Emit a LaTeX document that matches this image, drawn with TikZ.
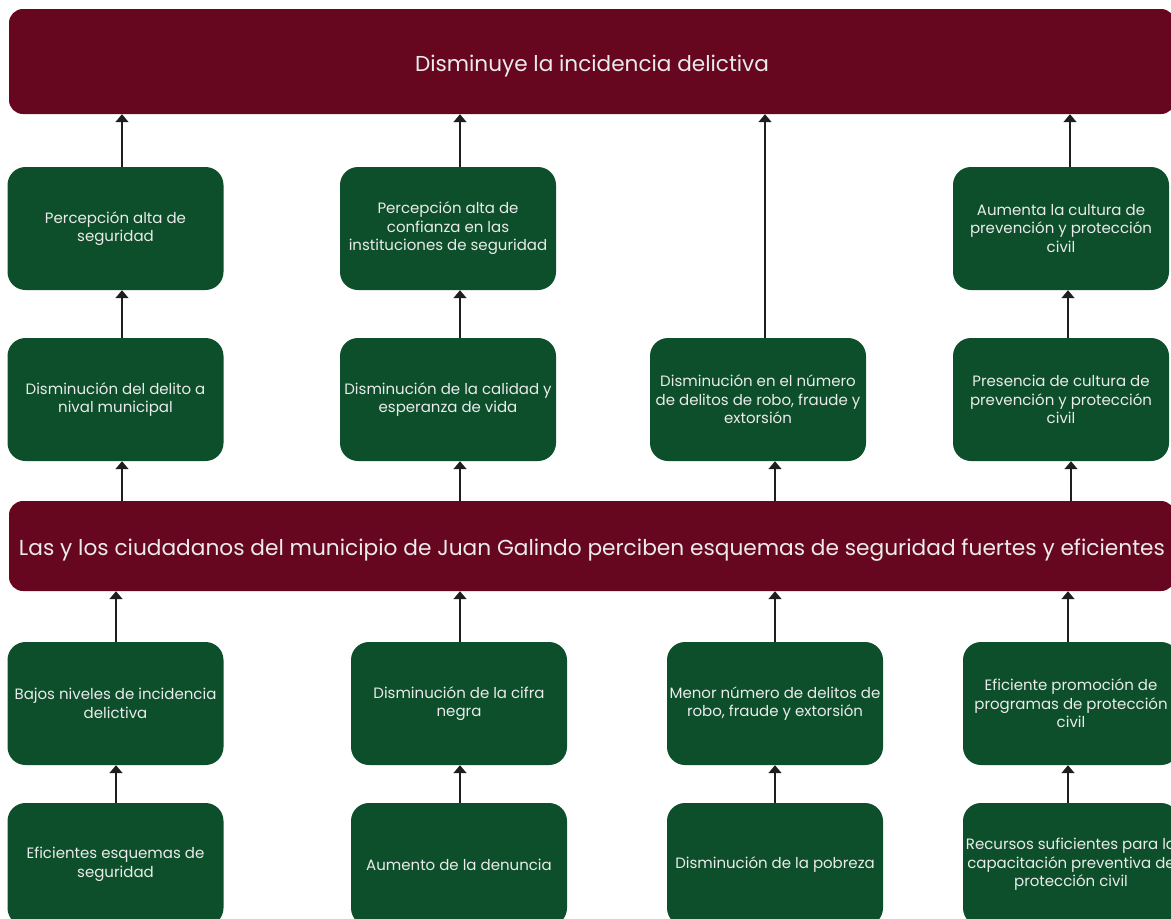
\documentclass[tikz,border=0pt]{standalone}
\usepackage{fontspec}
\setmainfont{Poppins}
\usetikzlibrary{arrows.meta}
\definecolor{maroon}{RGB}{102,6,31}
\definecolor{dgreen}{RGB}{13,79,42}
\definecolor{txt}{RGB}{235,235,235}
\definecolor{arrc}{RGB}{30,30,30}
\tikzset{
  bar/.style={fill=maroon, draw=none, rounded corners=14pt, minimum width=1166pt, text=txt, inner sep=0pt, text height=19pt, text depth=0pt},
  gbox/.style={fill=dgreen, draw=none, rounded corners=18pt, minimum width=216pt, minimum height=123pt, text=txt, align=center, inner sep=0pt, font=\fontsize{15}{18.6}\selectfont},
  arr/.style={draw=arrc, line width=1.5pt, -{Triangle[width=13pt,length=8pt]}}
}
\begin{document}
\begin{tikzpicture}[x=1pt,y=-1pt]
\useasboundingbox (0,0) rectangle (1171,919);
\clip (0,0) rectangle (1171,919);
% bars
\node[bar, minimum height=105pt, font=\fontsize{21.6}{26}\selectfont] (top) at (592,61.5) {Disminuye la incidencia delictiva};
\node[bar, minimum height=90pt, font=\fontsize{21.7}{26}\selectfont] (mid) at (592,546) {Las y los ciudadanos del municipio de Juan Galindo perciben esquemas de seguridad fuertes y eficientes};
% row 1
\node[gbox] (r1c1) at (115.5,228.5) {Percepción alta de\\seguridad};
\node[gbox] (r1c2) at (448,228.5) {Percepción alta de\\confianza en las\\instituciones de seguridad};
\node[gbox] (r1c4) at (1061,228.5) {Aumenta la cultura de\\prevención y protección\\civil};
% row 2
\node[gbox] (r2c1) at (115.5,399.5) {Disminución del delito a\\nival municipal};
\node[gbox] (r2c2) at (448,399.5) {Disminución de la calidad y\\esperanza de vida};
\node[gbox] (r2c3) at (758,399.5) {Disminución en el número\\de delitos de robo, fraude y\\extorsión};
\node[gbox] (r2c4) at (1061,399.5) {Presencia de cultura de\\prevención y protección\\civil};
% row 3
\node[gbox] (r3c1) at (115.5,703.5) {Bajos niveles de incidencia\\delictiva};
\node[gbox] (r3c2) at (459,703.5) {Disminución de la cifra\\negra};
\node[gbox] (r3c3) at (775,703.5) {Menor número de delitos de\\robo, fraude y extorsión};
\node[gbox] (r3c4) at (1071,703.5) {Eficiente promoción de\\programas de protección\\civil};
% row 4
\node[gbox] (r4c1) at (115.5,864.5) {Eficientes esquemas de\\seguridad};
\node[gbox] (r4c2) at (459,864.5) {Aumento de la denuncia};
\node[gbox] (r4c3) at (775,864.5) {Disminución de la pobreza};
\node[gbox] (r4c4) at (1071,864.5) {Recursos suficientes para la\\capacitación preventiva de\\protección civil};
% arrows to top bar
\draw[arr] ([xshift=6.5pt]r1c1.north) -- ([xshift=6.5pt]r1c1.north |- top.south);
\draw[arr] ([xshift=12pt]r1c2.north) -- ([xshift=12pt]r1c2.north |- top.south);
\draw[arr] ([xshift=7pt]r2c3.north) -- ([xshift=7pt]r2c3.north |- top.south);
\draw[arr] ([xshift=9pt]r1c4.north) -- ([xshift=9pt]r1c4.north |- top.south);
% row 2 -> row 1
\draw[arr] ([xshift=6.5pt]r2c1.north) -- ([xshift=6.5pt]r1c1.south);
\draw[arr] ([xshift=12pt]r2c2.north) -- ([xshift=12pt]r1c2.south);
\draw[arr] ([xshift=7pt]r2c4.north) -- ([xshift=7pt]r1c4.south);
% mid bar -> row 2
\draw[arr] ([xshift=6.5pt]r2c1.south |- mid.north) -- ([xshift=6.5pt]r2c1.south);
\draw[arr] ([xshift=12pt]r2c2.south |- mid.north) -- ([xshift=12pt]r2c2.south);
\draw[arr] ([xshift=17pt]r2c3.south |- mid.north) -- ([xshift=17pt]r2c3.south);
\draw[arr] ([xshift=10pt]r2c4.south |- mid.north) -- ([xshift=10pt]r2c4.south);
% row 3 -> mid bar
\draw[arr] ([xshift=0.5pt]r3c1.north) -- ([xshift=0.5pt]r3c1.north |- mid.south);
\draw[arr] ([xshift=1pt]r3c2.north) -- ([xshift=1pt]r3c2.north |- mid.south);
\draw[arr] (r3c3.north) -- (r3c3.north |- mid.south);
\draw[arr] ([xshift=-3pt]r3c4.north) -- ([xshift=-3pt]r3c4.north |- mid.south);
% row 4 -> row 3
\draw[arr] ([xshift=0.5pt]r4c1.north) -- ([xshift=0.5pt]r3c1.south);
\draw[arr] ([xshift=1pt]r4c2.north) -- ([xshift=1pt]r3c2.south);
\draw[arr] (r4c3.north) -- (r3c3.south);
\draw[arr] ([xshift=-3pt]r4c4.north) -- ([xshift=-3pt]r3c4.south);
\end{tikzpicture}
\end{document}
